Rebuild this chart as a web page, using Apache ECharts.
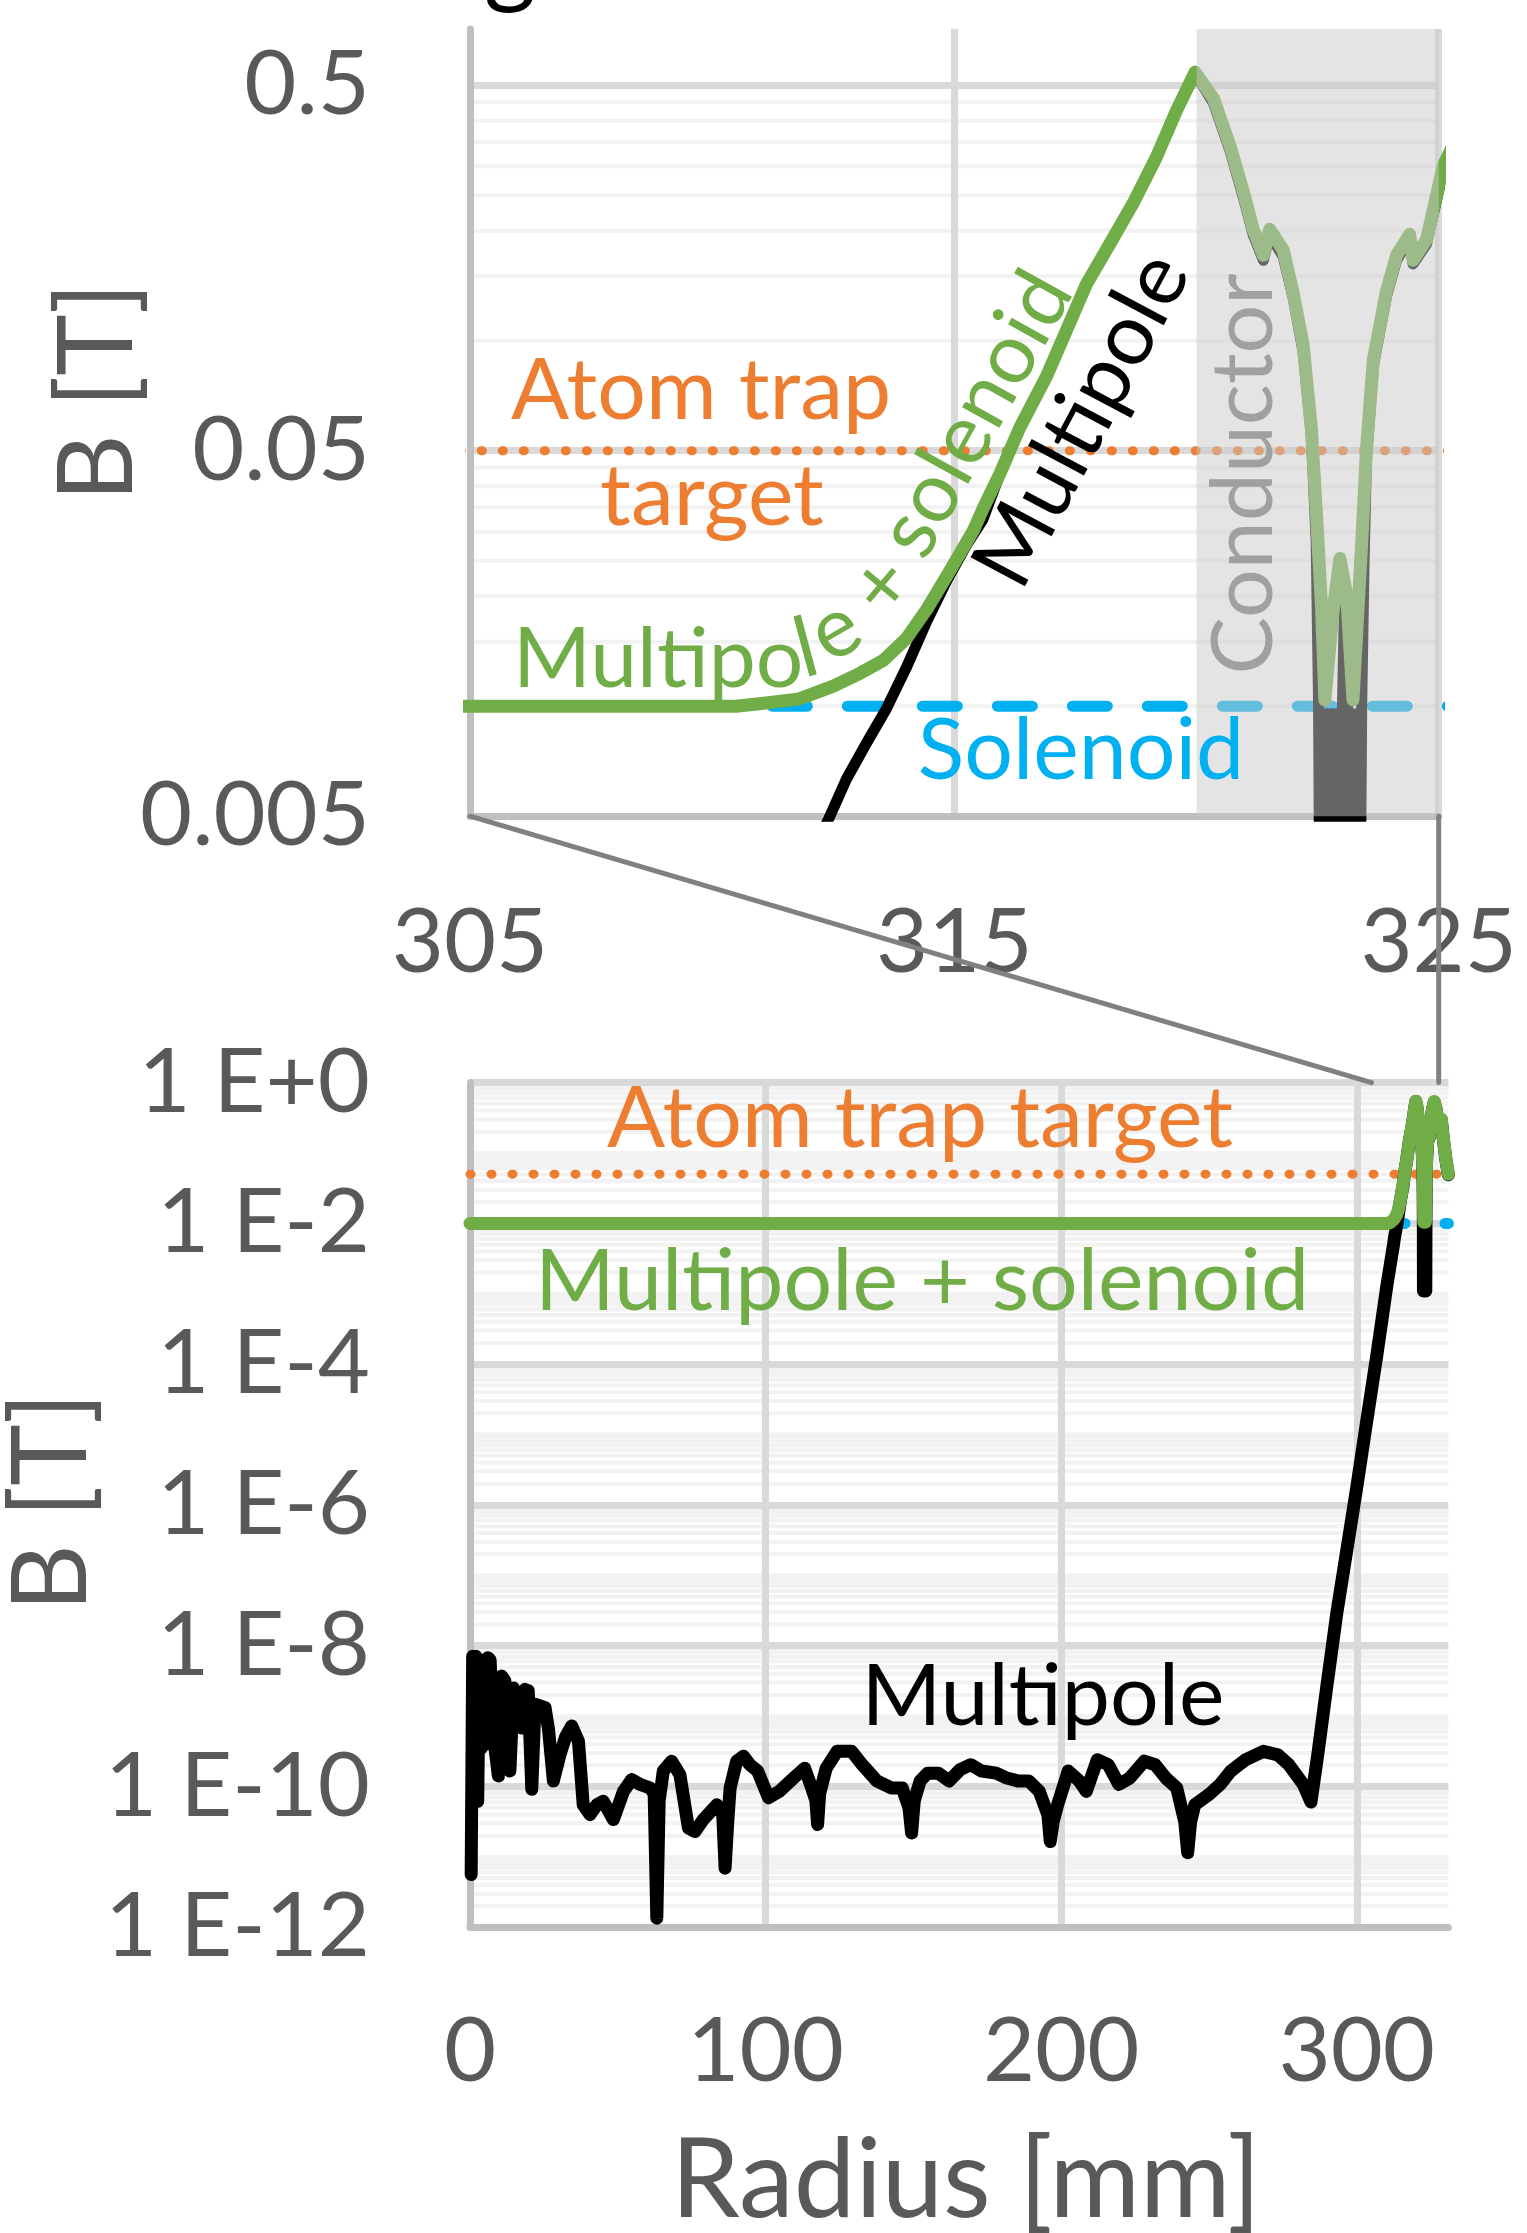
<!DOCTYPE html>
<html><head><meta charset="utf-8">
<script src="https://cdn.jsdelivr.net/npm/echarts@6/dist/echarts.min.js"></script>
<style>html,body{margin:0;padding:0;background:#fff}#c{width:1527px;height:2233px}</style>
</head><body><div id="c"></div>
<script>
// ---------------- data ----------------
// Multipole field: radius [mm] and log10 of B [T]
const multipoleR = [
  0.4, 0.9, 1.5, 2.0, 2.6, 3.2, 3.9, 4.6, 5.3, 6.0,
  6.8, 8.0, 9.6, 10.7, 11.8, 13.5, 14.7, 16.3, 17.5, 18.6,
  19.7, 20.9, 22.0, 25.4, 26.6, 28.2, 30.5, 32.3, 34.4, 36.7,
  38.3, 40.6, 42.9, 45.1, 48.5, 51.9, 54.7, 57.5, 60.9, 62.3,
  63.2, 64.0, 65.4, 68.2, 71.0, 73.9, 76.1, 78.9, 83.5, 85.5,
  86.3, 87.2, 88.0, 90.2, 92.5, 94.7, 97.3, 101.0, 104.6, 109.5,
  113.2, 115.2, 117.0, 117.6, 118.3, 120.5, 124.2, 129.1, 132.7, 137.6,
  142.5, 146.2, 148.5, 149.4, 150.3, 152.3, 154.8, 158.4, 162.1, 165.8,
  169.4, 173.1, 178.0, 181.6, 185.3, 189.0, 192.6, 195.5, 196.3, 197.3,
  198.8, 202.4, 206.1, 208.5, 212.2, 215.9, 219.5, 223.2, 228.1, 231.8,
  235.4, 239.1, 241.8, 242.8, 243.8, 245.2, 250.1, 253.8, 257.4, 262.3,
  268.4, 273.3, 277.0, 281.9, 284.5, 286.8, 289.8, 293.2, 296.6, 300.0,
  303.4, 306.8, 310.2, 312.4, 312.77, 313.19, 313.6, 314.01, 314.43, 314.84,
  315.25, 315.59, 315.94, 316.35, 316.9, 317.31, 317.72, 318.21, 318.69, 319.17,
  319.58, 319.97, 320.35, 320.69, 320.97, 321.17, 321.38, 321.51, 321.79, 321.99,
  322.2, 322.37, 322.47, 322.52, 322.56, 322.61, 322.66, 322.71, 322.76, 322.81,
  322.86, 322.91, 322.96, 323.01, 323.06, 323.12, 323.16, 323.21, 323.26, 323.31,
  323.36, 323.41, 323.46, 323.51, 323.65, 323.92, 324.13, 324.4, 324.47, 324.75,
  325.09, 325.6, 326.2, 326.8, 327.5, 328.1, 328.6, 329.3, 330.2, 331.0
];
const multipoleLogB = [
  -11.25, -8.15, -10.2, -8.15, -10.21, -8.2, -9.45, -8.4, -9.4, -8.17,
  -8.2, -9.3, -9.85, -8.43, -8.5, -9.78, -8.6, -8.79, -9.17, -8.62,
  -8.64, -10.04, -8.83, -8.88, -9.2, -9.92, -9.54, -9.3, -9.14, -9.36,
  -10.26, -10.4, -10.26, -10.21, -10.47, -10.07, -9.9, -9.97, -10.02, -10.1,
  -11.87, -10.2, -9.78, -9.64, -9.83, -10.59, -10.64, -10.47, -10.26, -10.4,
  -11.16, -10.5, -10.02, -9.64, -9.57, -9.69, -9.78, -10.16, -10.07, -9.88,
  -9.74, -9.97, -10.2, -10.54, -10.1, -9.74, -9.5, -9.5, -9.69, -9.92,
  -10.02, -10.02, -10.3, -10.66, -10.2, -9.92, -9.81, -9.81, -9.92, -9.76,
  -9.69, -9.78, -9.81, -9.88, -9.92, -9.92, -10.07, -10.4, -10.78, -10.5,
  -10.26, -9.78, -9.92, -10.07, -9.62, -9.69, -9.97, -9.88, -9.64, -9.69,
  -9.88, -10.02, -10.5, -10.94, -10.5, -10.26, -10.11, -9.97, -9.78, -9.62,
  -9.5, -9.55, -9.69, -9.97, -10.22, -9.55, -8.6, -7.55, -6.65, -5.75,
  -4.8, -3.87, -2.88, -2.31, -2.2, -2.1, -2.006, -1.894, -1.768, -1.657,
  -1.559, -1.489, -1.364, -1.238, -1.098, -0.973, -0.847, -0.735, -0.624, -0.498,
  -0.372, -0.268, -0.35, -0.48, -0.61, -0.71, -0.78, -0.71, -0.77, -0.88,
  -1.03, -1.26, -1.55, -2.0, -2.96, -2.02, -2.96, -2.02, -2.96, -2.02,
  -2.96, -2.02, -2.96, -2.02, -1.68, -2.0, -2.96, -2.02, -2.96, -2.02,
  -2.96, -2.0, -1.6, -1.32, -1.07, -0.88, -0.78, -0.72, -0.79, -0.735,
  -0.535, -0.39, -0.28, -0.37, -0.56, -0.63, -0.53, -0.81, -1.11, -1.31
];
// Multipole + solenoid field: radius [mm] and log10 of B [T]
const sumR = [
  0, 310.5, 311.2, 311.8, 312.5, 313.05, 313.53, 314.01, 314.43, 314.84,
  315.39, 315.59, 315.94, 316.35, 316.9, 317.31, 317.72, 318.21, 318.69, 319.17,
  319.58, 319.97, 320.35, 320.69, 320.97, 321.17, 321.38, 321.51, 321.79, 321.99,
  322.2, 322.37, 322.48, 322.58, 322.65, 322.82, 322.96, 323.1, 323.23, 323.41,
  323.51, 323.65, 323.92, 324.13, 324.4, 324.47, 324.75, 325.09, 325.6, 326.2,
  326.8, 327.5, 328.1, 328.6, 329.3, 330.2, 331.0
];
const sumLogB = [
  -2.0, -2.0, -1.99, -1.98, -1.945, -1.91, -1.875, -1.815, -1.735, -1.645,
  -1.52, -1.46, -1.364, -1.238, -1.098, -0.973, -0.847, -0.735, -0.624, -0.498,
  -0.372, -0.265, -0.337, -0.466, -0.594, -0.695, -0.766, -0.695, -0.752, -0.866,
  -1.01, -1.238, -1.482, -1.725, -1.983, -1.739, -1.596, -1.696, -1.983, -1.553,
  -1.296, -1.053, -0.866, -0.766, -0.709, -0.78, -0.723, -0.523, -0.38, -0.27,
  -0.36, -0.55, -0.62, -0.52, -0.8, -1.1, -1.3
];
const solenoidB = 0.01;          // T
const atomTrapTargetB = 0.05;    // T
const radiusSpan = [0, 331];     // mm
const conductorRange = [320, 325];
const zoomRange = [305, 325];
const zoomYMinB = 0.005;
const zoomXTickLabels = ['305', '315', '325'];
const zoomYTickLabels = ['0.005', '0.05', '0.5'];
const fullXTickLabels = ['0', '100', '200', '300'];
const fullYTickLabels = ['1 E-12', '1 E-10', '1 E-8', '1 E-6', '1 E-4', '1 E-2', '1 E+0'];

// ---------------- styling ----------------
const FONT = 'Lato';
const GREY_TXT = '#595959';
const C_GREEN = '#70ad47', C_ORANGE = '#ed7d31', C_BLUE = '#00b0f0';
const OFF = Math.log10(zoomYMinB);

const zip = (rs, ls, off) => rs.map((r, i) => [r, ls[i] - off]);
const multTop = zip(multipoleR, multipoleLogB, OFF);
const multBot = zip(multipoleR, multipoleLogB, 0);
const sumTop = zip(sumR, sumLogB, OFF);
const sumBot = zip(sumR, sumLogB, 0);
const constLine = (b, off) => radiusSpan.map(r => [r, Math.log10(b) - off]);

// minor log gridlines (k * 10^n)
const minorTop = [];
for (let n = 0; n <= 1; n++) for (let k = 2; k <= 9; k++) minorTop.push([310, n + Math.log10(k)]);
const minorBot = [];
for (let n = -12; n <= -1; n++) for (let k = 1; k <= 9; k++) {
  if (k === 1 && n % 2 === 0) continue;
  minorBot.push([100, n + Math.log10(k)]);
}
const minorRender = (params, api) => {
  const cs = params.coordSys;
  const y = api.coord([api.value(0), api.value(1)])[1];
  return { type: 'line', shape: { x1: cs.x, y1: y, x2: cs.x + cs.width, y2: y },
           style: { stroke: '#f2f2f2', lineWidth: 4 }, silent: true };
};

const axisLineStyle = { show: true, onZero: false, lineStyle: { color: '#bfbfbf', width: 7 } };
const labelBase = { color: GREY_TXT, fontFamily: FONT, fontSize: 90 };

const lineSeries = (name, data, xi, color, width, type, z) => ({
  name, type: 'line', xAxisIndex: xi, yAxisIndex: xi, data, showSymbol: false, symbol: 'none',
  silent: true, animation: false, z, clip: true,
  lineStyle: { color, width, type: type || 'solid', cap: 'round', join: 'round' }
});

const option = {
  animation: false,
  backgroundColor: '#fff',
  grid: [
    { left: 470, top: 29, width: 968.7, height: 787.2 },
    { left: 470, top: 1082.6, width: 978.4, height: 844.7 }
  ],
  xAxis: [
    { type: 'value', gridIndex: 0, min: zoomRange[0], max: zoomRange[1], interval: 5,
      axisLine: axisLineStyle, axisTick: { show: false },
      axisLabel: Object.assign({ margin: 82,
        formatter: v => { const i = (v - zoomRange[0]) / 10; return Number.isInteger(i) ? zoomXTickLabels[i] : ''; } }, labelBase),
      splitLine: { show: true, lineStyle: { color: ['#d9d9d9', 'rgba(0,0,0,0)'], width: 7 } } },
    { type: 'value', gridIndex: 1, min: radiusSpan[0], max: radiusSpan[1], interval: 100,
      axisLine: axisLineStyle, axisTick: { show: false },
      axisLabel: Object.assign({ margin: 80, showMaxLabel: false,
        formatter: v => { const i = v / 100; return Number.isInteger(i) ? fullXTickLabels[i] : ''; } }, labelBase),
      splitLine: { show: true, showMaxLine: false, lineStyle: { color: '#d9d9d9', width: 7 } } }
  ],
  yAxis: [
    { type: 'value', gridIndex: 0, min: 0, max: 2.154, interval: 1,
      axisLine: axisLineStyle, axisTick: { show: false },
      axisLabel: Object.assign({ margin: 100, showMaxLabel: false,
        formatter: v => Number.isInteger(v) ? zoomYTickLabels[v] : '' }, labelBase),
      splitLine: { show: true, showMaxLine: false, lineStyle: { color: '#d9d9d9', width: 7 } } },
    { type: 'value', gridIndex: 1, min: -12, max: 0, interval: 2,
      axisLine: axisLineStyle, axisTick: { show: false },
      axisLabel: Object.assign({ margin: 100,
        formatter: v => { const i = (v + 12) / 2; return Number.isInteger(i) ? fullYTickLabels[i] : ''; } }, labelBase),
      splitLine: { show: true, lineStyle: { color: '#d9d9d9', width: 7 } } }
  ],
  series: [
    { type: 'custom', xAxisIndex: 0, yAxisIndex: 0, data: minorTop, renderItem: minorRender, z: -1, silent: true, animation: false },
    lineSeries('target', constLine(atomTrapTargetB, OFF), 0, C_ORANGE, 9, [1, 20], 3),
    lineSeries('solenoid', constLine(solenoidB, OFF), 0, C_BLUE, 11, [35, 40], 4),
    lineSeries('multipole', multTop, 0, '#000', 11, 'solid', 5),
    lineSeries('sum', sumTop, 0, C_GREEN, 13, 'solid', 6),
    { type: 'custom', xAxisIndex: 0, yAxisIndex: 0, data: [conductorRange], encode: { x: [0, 1] },
      z: 10, silent: true, animation: false,
      renderItem: (params, api) => {
        const cs = params.coordSys;
        const x1 = api.coord([api.value(0), 1])[0];
        const x2 = api.coord([api.value(1), 1])[0];
        return { type: 'rect', shape: { x: x1, y: cs.y, width: x2 - x1, height: cs.height },
                 style: { fill: 'rgba(202,202,202,0.5)' } };
      } },
    { type: 'custom', xAxisIndex: 1, yAxisIndex: 1, data: minorBot, renderItem: minorRender, z: -1, silent: true, animation: false },
    lineSeries('target2', constLine(atomTrapTargetB, 0), 1, C_ORANGE, 9, [1, 20], 3),
    lineSeries('solenoid2', constLine(solenoidB, 0), 1, C_BLUE, 11, [35, 40], 4),
    lineSeries('multipole2', multBot, 1, '#000', 13, 'solid', 5),
    lineSeries('sum2', sumBot, 1, C_GREEN, 13, 'solid', 6)
  ]
};

const chart = echarts.init(document.getElementById('c'), null, { renderer: 'canvas' });
chart.setOption(option);

// ---------------- annotations ----------------
const txt = (text, x, y, size, color, rotDeg, align) => ({
  type: 'text', x, y, rotation: (rotDeg || 0) * Math.PI / 180, z: 100, silent: true,
  style: { text, fontFamily: FONT, fontSize: size, fill: color, align: align || 'center', verticalAlign: 'middle' }
});

const pA = chart.convertToPixel({ gridIndex: 0 }, [zoomRange[0], 0]);
const pB = chart.convertToPixel({ gridIndex: 1 }, [zoomRange[0], 0]);
const pC = chart.convertToPixel({ gridIndex: 0 }, [zoomRange[1], 0]);

const elements = [
  { type: 'line', z: 50, silent: true, shape: { x1: pA[0], y1: pA[1], x2: pB[0], y2: pB[1] },
    style: { stroke: '#808080', lineWidth: 5, lineCap: 'round' } },
  { type: 'line', z: 50, silent: true, shape: { x1: pC[0], y1: pC[1], x2: pC[0], y2: pB[1] },
    style: { stroke: '#808080', lineWidth: 5, lineCap: 'round' } },
  txt('g', 510, -37, 100, '#000'),
  // top chart
  txt('Atom trap', 701, 391, 86, C_ORANGE),
  txt('target', 712, 497, 86, C_ORANGE),
  txt('Solenoid', 1081, 751, 86, C_BLUE),
  txt('Multipole', 1082, 420, 86, '#000', 62),
  txt('Conductor', 1244, 474, 86, '#a0a0a0', 90),
  // curved "Multipole + solenoid" label following the green curve
  txt('Multipo', 513, 660, 84, C_GREEN, 0, 'left'),
  txt('l', 806, 649, 84, C_GREEN, 15),
  txt('e', 835, 630, 84, C_GREEN, 30),
  txt('+', 882, 586, 84, C_GREEN, 50),
  txt('solenoid', 976, 414, 84, C_GREEN, 61),
  // bottom chart
  txt('Atom trap target', 920, 1119, 86, C_ORANGE),
  txt('Multipole + solenoid', 922, 1282, 86, C_GREEN),
  txt('Multipole', 1043, 1697, 86, '#000'),
  // axis titles
  txt('B [T]', 98, 392, 104, GREY_TXT, 90),
  txt('B [T]', 52, 1502, 104, GREY_TXT, 90),
  txt('Radius [mm]', 966, 2182, 110, GREY_TXT)
];
chart.setOption({ graphic: { elements } });
</script>
</body></html>
